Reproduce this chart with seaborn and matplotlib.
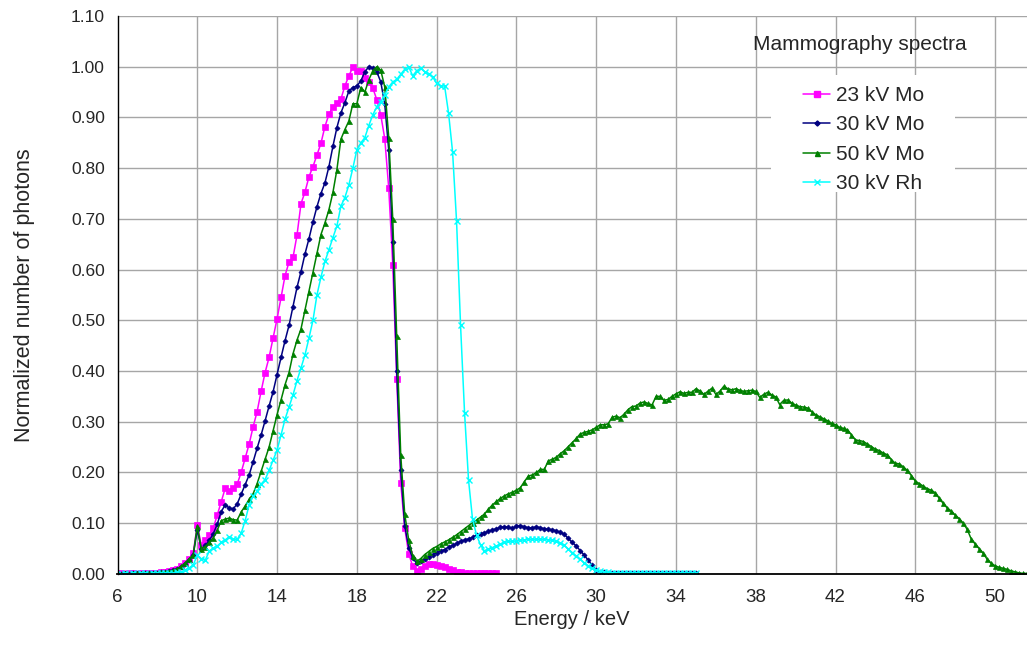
import numpy as np
import pandas as pd
import matplotlib
matplotlib.use("Agg")
import matplotlib.pyplot as plt
from matplotlib.patches import Rectangle
import seaborn as sns

# ---------------- data (normalized photon counts, 0.2 keV steps from 6 keV) ----------------
E_START = 6.0
E_STEP = 0.2

mo23 = [
    0.000, 0.001, 0.000, 0.001, 0.001, 0.000, 0.001, 0.002, 0.001, 0.002,   # 6
    0.002, 0.003, 0.004, 0.006, 0.008, 0.010, 0.015, 0.022, 0.030, 0.042,   # 8
    0.097, 0.057, 0.066, 0.076, 0.090, 0.116, 0.142, 0.169, 0.164, 0.169,   # 10
    0.177, 0.200, 0.228, 0.256, 0.290, 0.320, 0.360, 0.397, 0.427, 0.465,   # 12
    0.503, 0.545, 0.588, 0.615, 0.624, 0.668, 0.730, 0.753, 0.783, 0.803,   # 14
    0.826, 0.849, 0.882, 0.906, 0.921, 0.929, 0.936, 0.962, 0.982, 0.999,   # 16
    0.991, 0.991, 0.977, 0.970, 0.958, 0.935, 0.905, 0.858, 0.760, 0.610,   # 18
    0.385, 0.180, 0.090, 0.040, 0.015, 0.005, 0.010, 0.015, 0.019, 0.019,   # 20
    0.018, 0.016, 0.013, 0.010, 0.007, 0.004, 0.003, 0.002, 0.002, 0.001,   # 22
    0.001, 0.001, 0.001, 0.001, 0.001, 0.001,                               # 24
]

mo30 = [
    0.000, 0.000, 0.001, 0.000, 0.001, 0.001, 0.000, 0.001, 0.001, 0.002,   # 6
    0.002, 0.003, 0.004, 0.005, 0.007, 0.010, 0.014, 0.020, 0.027, 0.038,   # 8
    0.087, 0.050, 0.056, 0.066, 0.079, 0.098, 0.123, 0.136, 0.130, 0.128,   # 10
    0.138, 0.157, 0.176, 0.195, 0.221, 0.248, 0.274, 0.302, 0.331, 0.359,   # 12
    0.393, 0.427, 0.460, 0.490, 0.527, 0.565, 0.596, 0.631, 0.661, 0.694,   # 14
    0.724, 0.750, 0.771, 0.803, 0.843, 0.880, 0.909, 0.929, 0.952, 0.959,   # 16
    0.962, 0.972, 0.990, 1.000, 0.998, 0.990, 0.970, 0.926, 0.835, 0.655,   # 18
    0.400, 0.205, 0.095, 0.052, 0.031, 0.021, 0.025, 0.029, 0.033, 0.038,   # 20
    0.042, 0.045, 0.048, 0.053, 0.056, 0.060, 0.064, 0.067, 0.069, 0.072,   # 22
    0.076, 0.078, 0.081, 0.084, 0.087, 0.089, 0.092, 0.093, 0.092, 0.090,   # 24
    0.094, 0.095, 0.093, 0.091, 0.091, 0.093, 0.091, 0.089, 0.088, 0.087,   # 26
    0.085, 0.082, 0.078, 0.070, 0.062, 0.055, 0.046, 0.037, 0.027, 0.017,   # 28
    0.008, 0.004, 0.003, 0.002, 0.002, 0.002, 0.001, 0.001, 0.001, 0.001,   # 30
    0.001, 0.001, 0.001, 0.001, 0.001, 0.001, 0.001, 0.001, 0.001, 0.001,   # 32
    0.001, 0.001, 0.001, 0.001, 0.001, 0.001,                               # 34
]

mo50 = [
    0.000, 0.000, 0.001, 0.000, 0.001, 0.001, 0.001, 0.001, 0.002, 0.002,   # 6
    0.002, 0.003, 0.004, 0.005, 0.007, 0.010, 0.015, 0.022, 0.030, 0.038,   # 8
    0.095, 0.050, 0.054, 0.062, 0.071, 0.086, 0.105, 0.108, 0.110, 0.107,   # 10
    0.106, 0.122, 0.134, 0.147, 0.158, 0.178, 0.202, 0.226, 0.250, 0.282,   # 12
    0.314, 0.343, 0.373, 0.397, 0.434, 0.461, 0.483, 0.520, 0.556, 0.594,   # 14
    0.632, 0.669, 0.692, 0.718, 0.752, 0.797, 0.857, 0.876, 0.893, 0.927,   # 16
    0.927, 0.959, 0.950, 0.974, 0.992, 1.000, 0.993, 0.960, 0.860, 0.700,   # 18
    0.470, 0.235, 0.118, 0.067, 0.036, 0.025, 0.030, 0.038, 0.044, 0.050,   # 20
    0.054, 0.059, 0.063, 0.067, 0.072, 0.077, 0.083, 0.089, 0.095, 0.101,   # 22
    0.106, 0.112, 0.118, 0.128, 0.136, 0.143, 0.149, 0.154, 0.158, 0.161,   # 24
    0.165, 0.170, 0.182, 0.193, 0.195, 0.200, 0.206, 0.206, 0.223, 0.226,   # 26
    0.230, 0.237, 0.243, 0.251, 0.259, 0.267, 0.276, 0.279, 0.281, 0.284,   # 28
    0.289, 0.294, 0.294, 0.296, 0.309, 0.311, 0.308, 0.315, 0.324, 0.330,   # 30
    0.331, 0.337, 0.339, 0.336, 0.333, 0.350, 0.350, 0.342, 0.344, 0.350,   # 32
    0.355, 0.359, 0.356, 0.358, 0.358, 0.365, 0.361, 0.354, 0.360, 0.366,   # 34
    0.354, 0.360, 0.370, 0.365, 0.363, 0.365, 0.362, 0.360, 0.361, 0.362,   # 36
    0.360, 0.348, 0.354, 0.358, 0.353, 0.349, 0.334, 0.342, 0.343, 0.337,   # 38
    0.333, 0.330, 0.329, 0.327, 0.320, 0.314, 0.310, 0.306, 0.302, 0.297,   # 40
    0.294, 0.289, 0.287, 0.284, 0.274, 0.264, 0.263, 0.261, 0.256, 0.251,   # 42
    0.246, 0.243, 0.238, 0.235, 0.225, 0.218, 0.217, 0.211, 0.204, 0.194,   # 44
    0.183, 0.178, 0.173, 0.168, 0.165, 0.160, 0.149, 0.139, 0.130, 0.124,   # 46
    0.116, 0.109, 0.100, 0.088, 0.069, 0.059, 0.050, 0.041, 0.029, 0.021,   # 48
    0.016, 0.013, 0.011, 0.009, 0.006, 0.004, 0.002, 0.001, 0.001,          # 50
]

rh30 = [
    0.000, 0.000, 0.001, 0.000, 0.001, 0.000, 0.001, 0.001, 0.000, 0.001,   # 6
    0.001, 0.001, 0.001, 0.002, 0.002, 0.003, 0.004, 0.008, 0.012, 0.018,   # 8
    0.037, 0.030, 0.027, 0.045, 0.051, 0.055, 0.062, 0.067, 0.073, 0.068,   # 10
    0.068, 0.080, 0.105, 0.136, 0.153, 0.163, 0.177, 0.186, 0.204, 0.224,   # 12
    0.244, 0.274, 0.305, 0.329, 0.353, 0.381, 0.406, 0.432, 0.465, 0.500,   # 14
    0.550, 0.585, 0.616, 0.639, 0.663, 0.686, 0.725, 0.742, 0.767, 0.800,   # 16
    0.836, 0.850, 0.860, 0.884, 0.905, 0.921, 0.931, 0.945, 0.960, 0.970,   # 18
    0.975, 0.985, 0.995, 1.000, 0.982, 0.992, 0.997, 0.990, 0.986, 0.980,   # 20
    0.967, 0.962, 0.962, 0.908, 0.832, 0.695, 0.490, 0.318, 0.185, 0.108,   # 22
    0.077, 0.057, 0.045, 0.049, 0.052, 0.055, 0.058, 0.062, 0.064, 0.064,   # 24
    0.065, 0.066, 0.067, 0.068, 0.068, 0.068, 0.068, 0.068, 0.067, 0.066,   # 26
    0.064, 0.061, 0.056, 0.049, 0.042, 0.035, 0.029, 0.022, 0.016, 0.011,   # 28
    0.008, 0.005, 0.004, 0.003, 0.002, 0.002, 0.002, 0.001, 0.002, 0.001,   # 30
    0.001, 0.002, 0.001, 0.001, 0.002, 0.001, 0.001, 0.001, 0.002, 0.001,   # 32
    0.001, 0.001, 0.002, 0.001, 0.001, 0.001,                               # 34
]

series_names = ["23 kV Mo", "30 kV Mo", "50 kV Mo", "30 kV Rh"]
series_values = [mo23, mo30, mo50, rh30]
series_colors = ["#FF00FF", "#000080", "#008000", "#00FFFF"]
series_markers = ["s", "D", "^", "x"]
series_msize = [4.2, 2.6, 3.6, 4.5]

x_ticks = [6, 10, 14, 18, 22, 26, 30, 34, 38, 42, 46, 50]
y_ticks = [0.0, 0.1, 0.2, 0.3, 0.4, 0.5, 0.6, 0.7, 0.8, 0.9, 1.0, 1.1]

# ---------------- figure ----------------
sns.set_style("white")
plt.rcParams["font.family"] = ["Liberation Sans", "DejaVu Sans"]

W, H = 1027, 656
fig = plt.figure(figsize=(W / 100, H / 100), dpi=100)
L, R, T, B = 117.5, 1027.0, 16.0, 573.9
ax = fig.add_axes([L / W, 1 - B / H, (R - L) / W, (B - T) / H])

frames = []
for name, vals in zip(series_names, series_values):
    e = np.round(E_START + E_STEP * np.arange(len(vals)), 1)
    frames.append(pd.DataFrame({"Energy": e, "Photons": vals, "Series": name}))
df = pd.concat(frames, ignore_index=True)

for name, col, mk, ms in zip(series_names, series_colors, series_markers, series_msize):
    sub = df[df["Series"] == name]
    sns.lineplot(data=sub, x="Energy", y="Photons", ax=ax, color=col,
                 marker=mk, markersize=ms, markeredgecolor=col,
                 markerfacecolor=col, markeredgewidth=1.0 if mk == "x" else 0.5,
                 linewidth=1.1, label=name, estimator=None, sort=False,
                 clip_on=True)

ax.set_xlim(6, 51.6)
ax.set_ylim(0, 1.10)
ax.set_xticks(x_ticks)
ax.set_yticks(y_ticks)
ax.set_yticklabels([f"{v:.2f}" for v in y_ticks])
ax.grid(True, color="#a6a6a6", linewidth=1.0)
ax.set_axisbelow(True)

for s in ["top", "right"]:
    ax.spines[s].set_visible(False)
ax.spines["left"].set_color("black")
ax.spines["left"].set_linewidth(1.0)
ax.spines["bottom"].set_color("black")
ax.spines["bottom"].set_linewidth(1.3)

ax.tick_params(axis="x", direction="out", length=5, width=1, color="black",
               labelsize=13.5, pad=6)
ax.tick_params(axis="y", direction="out", length=5, width=1, color="#808080",
               labelsize=12.5, pad=4)

ax.set_xlabel("Energy / keV", fontsize=14.5, labelpad=3)
ax.set_ylabel("Normalized number of photons", fontsize=15.5, labelpad=26)

# white box behind legend (no border)
px = lambda x: (x - L) / (R - L)
py = lambda y: (B - y) / (B - T)
ax.add_patch(Rectangle((px(771), py(192)), px(955) - px(771), py(75) - py(192),
                       transform=ax.transAxes, facecolor="white",
                       edgecolor="none", zorder=1.2))

leg = ax.legend(loc="upper left", bbox_to_anchor=(px(803), py(86)),
                frameon=False, fontsize=15, handlelength=1.3,
                handletextpad=0.3, labelspacing=0.5, borderpad=0,
                borderaxespad=0)
for h in leg.legend_handles:
    h.set_markeredgewidth(1.0)

fig.text(753 / W, 1 - 45 / H, "Mammography spectra", fontsize=15,
         ha="left", va="center")

fig.savefig("out.png", dpi=100)
